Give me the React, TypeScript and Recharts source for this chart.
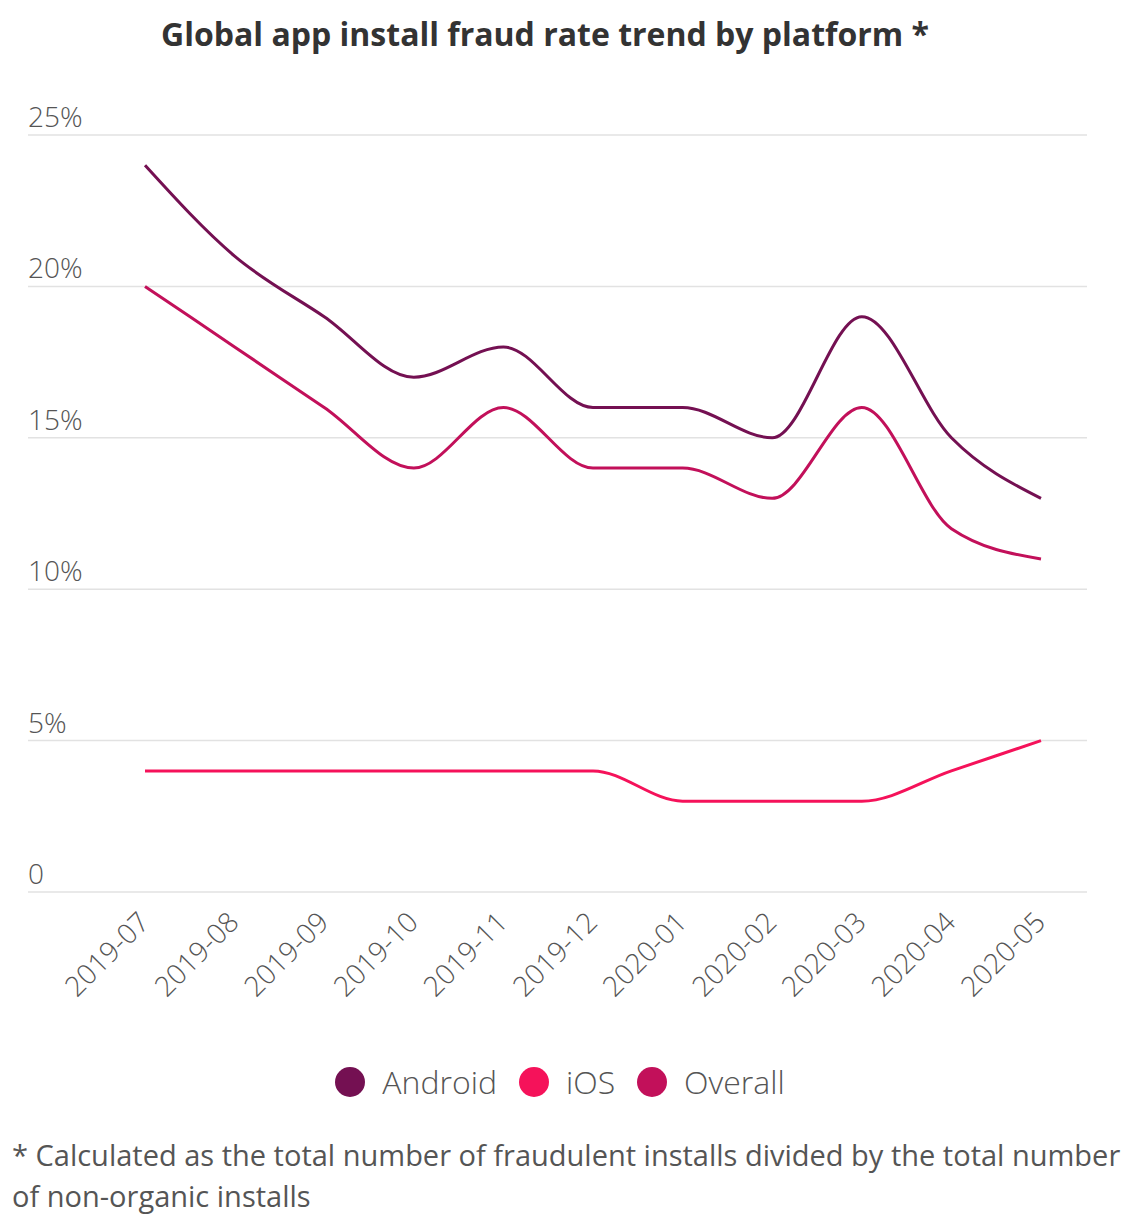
import React from 'react';
import { LineChart, Line, XAxis, YAxis, CartesianGrid } from 'recharts';

const months = [
  '2019-07', '2019-08', '2019-09', '2019-10', '2019-11', '2019-12',
  '2020-01', '2020-02', '2020-03', '2020-04', '2020-05',
];
const android = [24, 21, 19, 17, 18, 16, 16, 15, 19, 15, 13];
const ios = [4, 4, 4, 4, 4, 4, 3, 3, 3, 4, 5];
const overall = [20, 18, 16, 14, 16, 14, 14, 13, 16, 12, 11];
const yTicks = [0, 5, 10, 15, 20, 25];

const series = [
  { key: 'Android', color: '#741052' },
  { key: 'iOS', color: '#f5125a' },
  { key: 'Overall', color: '#c2105a' },
];

const data = months.map((m, i) => ({
  month: m,
  Android: android[i],
  iOS: ios[i],
  Overall: overall[i],
}));

const FONT = '"Open Sans", "Noto Sans", sans-serif';
const GREY = '#555';

function YTick(props: any) {
  const { x, y, payload } = props;
  const v = payload.value;
  return (
    <text x={x} y={y - 8} textAnchor="start" fill={GREY} fontSize={28} fontFamily={FONT} fontWeight={300}>
      {v === 0 ? '0' : `${v}%`}
    </text>
  );
}

function XTick(props: any) {
  const { x, y, payload } = props;
  const tx = x + 6;
  const ty = y + 24;
  return (
    <text
      x={tx}
      y={ty}
      textAnchor="end"
      fill={GREY}
      fontSize={28}
      fontFamily={FONT}
      fontWeight={300}
      transform={`rotate(-45, ${tx}, ${ty})`}
    >
      {payload.value}
    </text>
  );
}

export default function App() {
  return (
    <div style={{ position: 'absolute', left: 0, top: 0, width: 1130, height: 1221, background: '#fff', fontFamily: FONT }}>
      <div
        style={{
          position: 'absolute', top: 12, left: 0, width: 1090, textAlign: 'center',
          fontSize: 32, fontWeight: 700, color: '#333', whiteSpace: 'nowrap',
        }}
      >
        Global app install fraud rate trend by platform *
      </div>
      <LineChart
        width={1130}
        height={1050}
        data={data}
        margin={{ top: 135, right: 43, bottom: 0, left: 0 }}
      >
        <CartesianGrid vertical={false} stroke="#e2e2e2" strokeWidth={1.5} />
        <XAxis
          dataKey="month"
          padding={{ left: 117, right: 46 }}
          axisLine={false}
          tickLine={false}
          interval={0}
          tick={<XTick />}
          height={158}
        />
        <YAxis
          domain={[0, 25]}
          ticks={yTicks}
          width={28}
          axisLine={false}
          tickLine={false}
          tickSize={0}
          tickMargin={0}
          tick={<YTick />}
        />
        {series.map((s) => (
          <Line
            key={s.key}
            type="monotone"
            dataKey={s.key}
            stroke={s.color}
            strokeWidth={3}
            dot={false}
            isAnimationActive={false}
          />
        ))}
      </LineChart>
      <div
        style={{
          position: 'absolute', top: 1060, left: 0, width: 1120, display: 'flex',
          justifyContent: 'center', alignItems: 'center',
        }}
      >
        {series.map((s) => (
          <div key={s.key} style={{ display: 'flex', alignItems: 'center', margin: '0 11px' }}>
            <span style={{ width: 30, height: 30, borderRadius: 15, background: s.color, display: 'inline-block' }} />
            <span style={{ marginLeft: 17, fontSize: 32, color: GREY, fontWeight: 300 }}>{s.key}</span>
          </div>
        ))}
      </div>
      <div
        style={{
          position: 'absolute', top: 1134, left: 12, fontSize: 29, color: GREY,
          lineHeight: '41px', whiteSpace: 'nowrap',
        }}
      >
        <div>* Calculated as the total number of fraudulent installs divided by the total number</div>
        <div>of non-organic installs</div>
      </div>
    </div>
  );
}
